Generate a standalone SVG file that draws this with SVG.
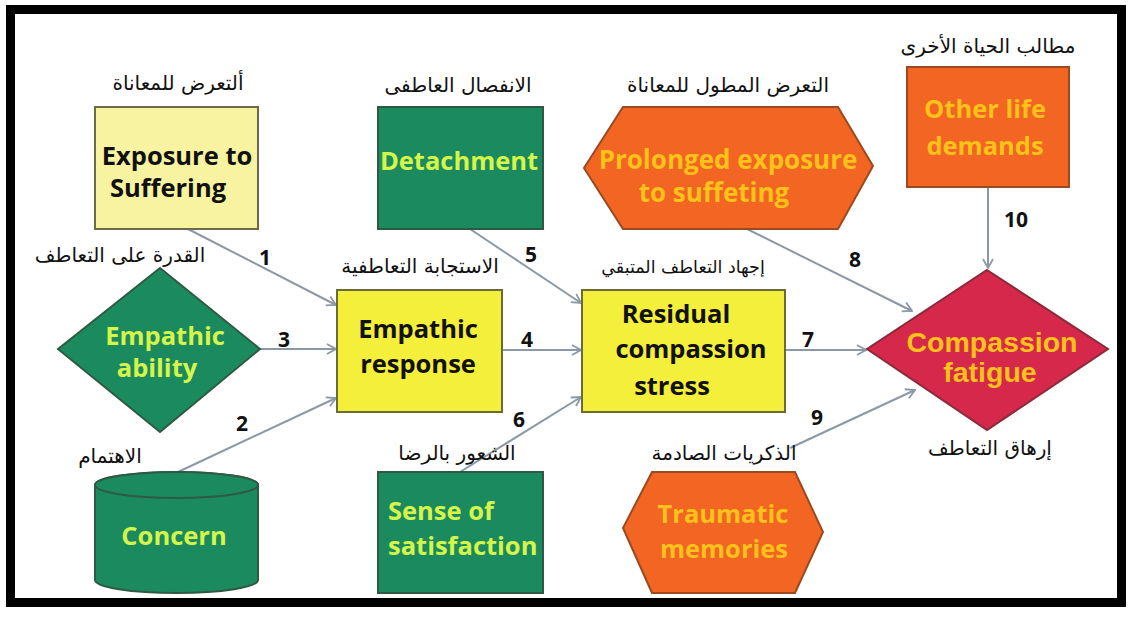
<svg xmlns="http://www.w3.org/2000/svg" width="1132" height="617" viewBox="0 0 1132 617">
  <style>
    .en { font-family: "Open Sans", "Noto Sans", sans-serif; font-weight: bold; font-size: 25.5px; text-anchor: middle; }
    .ar { font-family: "DejaVu Sans", "Noto Sans", sans-serif; font-size: 20px; text-anchor: middle; fill: #111; }
    .num { font-family: "Open Sans", "Noto Sans", sans-serif; font-weight: bold; font-size: 21px; text-anchor: middle; fill: #111; }
    .dark { fill: #111; }
    .lime { fill: #d6f54a; }
    .gold { fill: #ffc21a; }
    .pale { fill: #f8f3a0; stroke: #6b6b4a; stroke-width: 2; }
    .yel { fill: #f3ef3a; stroke: #6b6b3a; stroke-width: 2; }
    .grn { fill: #1b8b5f; stroke: #2e5a45; stroke-width: 2; }
    .org { fill: #f26522; stroke: #9a4a20; stroke-width: 2; }
    .red { fill: #d6284a; stroke: #8a2a3a; stroke-width: 2; }
    .link { stroke: #8b98a6; stroke-width: 2; fill: none; marker-end: url(#arr); }
  </style>
  <defs>
    <marker id="arr" viewBox="0 0 12 12" refX="11" refY="6" markerWidth="12" markerHeight="12" markerUnits="userSpaceOnUse" orient="auto">
      <path d="M2,1 L11,6 L2,11" fill="none" stroke="#8b98a6" stroke-width="1.8"/>
    </marker>
  </defs>

  <rect x="0" y="0" width="1132" height="617" fill="#fff"/>
  <!-- outer frame -->
  <rect x="10.5" y="9.5" width="1111" height="593" fill="none" stroke="#000" stroke-width="9"/>

  <!-- connectors -->
  <g id="connectors">
    <line class="link" x1="188" y1="229" x2="336" y2="305"/>
    <line class="link" x1="178" y1="472" x2="336" y2="398"/>
    <line class="link" x1="260" y1="349" x2="336" y2="349"/>
    <line class="link" x1="502" y1="350" x2="581" y2="350"/>
    <line class="link" x1="470" y1="229" x2="581" y2="303"/>
    <line class="link" x1="460" y1="472" x2="581" y2="397"/>
    <line class="link" x1="785" y1="350" x2="866" y2="350"/>
    <line class="link" x1="747" y1="229" x2="912" y2="311"/>
    <line class="link" x1="790" y1="448" x2="915" y2="390"/>
    <line class="link" x1="988" y1="187" x2="988" y2="268"/>
    <text class="num" x="265" y="265">1</text>
    <text class="num" x="242" y="431">2</text>
    <text class="num" x="284" y="347">3</text>
    <text class="num" x="527" y="347">4</text>
    <text class="num" x="531" y="262">5</text>
    <text class="num" x="519" y="427">6</text>
    <text class="num" x="808" y="347">7</text>
    <text class="num" x="855" y="267">8</text>
    <text class="num" x="817" y="425">9</text>
    <text class="num" x="1016" y="227">10</text>
  </g>

  <g id="exposure">
    <text class="ar" x="178" y="90">ألتعرض للمعاناة</text>
    <rect class="pale" x="95" y="107" width="163" height="122"/>
    <text class="en dark" x="177" y="165">Exposure to</text>
    <text class="en dark" x="168" y="197">Suffering</text>
  </g>

  <g id="detachment">
    <text class="ar" x="458" y="92">الانفصال العاطفى</text>
    <rect class="grn" x="378" y="107" width="165" height="122"/>
    <text class="en lime" x="459" y="170">Detachment</text>
  </g>

  <g id="prolonged">
    <text class="ar" x="728" y="92">التعرض المطول للمعاناة</text>
    <polygon class="org" points="623,107 838,107 873,166 838,229 623,229 584,168"/>
    <text class="en gold" x="728" y="169" style="font-size:26px">Prolonged exposure</text>
    <text class="en gold" x="714" y="202" style="font-size:26px">to suffeting</text>
  </g>

  <g id="other-demands">
    <text class="ar" x="988" y="53">مطالب الحياة الأخرى</text>
    <rect class="org" x="907" y="67" width="162" height="120"/>
    <text class="en gold" x="985" y="118">Other life</text>
    <text class="en gold" x="985" y="155">demands</text>
  </g>

  <g id="empathic-ability">
    <text class="ar" x="120" y="262">القدرة على التعاطف</text>
    <polygon class="grn" points="160,268 260,349 160,432 58,349"/>
    <text class="en lime" x="165" y="345">Empathic</text>
    <text class="en lime" x="157" y="377">ability</text>
  </g>

  <g id="concern">
    <text class="ar" x="110" y="463">الاهتمام</text>
    <path class="grn" d="M95,485 L95,580 A81.5,13 0 0 0 258,580 L258,485 A81.5,13 0 0 0 95,485 Z"/>
    <ellipse class="grn" cx="176.5" cy="485" rx="81.5" ry="13"/>
    <text class="en lime" x="174" y="545">Concern</text>
  </g>

  <g id="empathic-response">
    <text class="ar" x="420" y="273">الاستجابة التعاطفية</text>
    <rect class="yel" x="337" y="290" width="165" height="122"/>
    <text class="en dark" x="418" y="338">Empathic</text>
    <text class="en dark" x="418" y="373">response</text>
  </g>

  <g id="residual-stress">
    <text class="ar" x="683" y="273" style="font-size:17.5px">إجهاد التعاطف المتبقي</text>
    <rect class="yel" x="582" y="290" width="203" height="122"/>
    <text class="en dark" x="676" y="323">Residual</text>
    <text class="en dark" x="691" y="358">compassion</text>
    <text class="en dark" x="672" y="395">stress</text>
  </g>

  <g id="compassion-fatigue">
    <polygon class="red" points="987,270 1108,349 987,430 867,349"/>
    <text class="en gold" x="992" y="352" style="font-family:'Liberation Sans', Arial, sans-serif; font-size:28.5px">Compassion</text>
    <text class="en gold" x="990" y="382" style="font-family:'Liberation Sans', Arial, sans-serif; font-size:28.5px">fatigue</text>
    <text class="ar" x="990" y="455">إرهاق التعاطف</text>
  </g>

  <g id="satisfaction">
    <text class="ar" x="457" y="460">الشعور بالرضا</text>
    <rect class="grn" x="378" y="472" width="165" height="121"/>
    <text class="en lime" x="388" y="520" style="text-anchor:start">Sense of</text>
    <text class="en lime" x="388" y="555" style="text-anchor:start">satisfaction</text>
  </g>

  <g id="traumatic">
    <text class="ar" x="724" y="460">الذكريات الصادمة</text>
    <polygon class="org" points="652,472 795,472 823,532 795,593 652,593 623,528"/>
    <text class="en gold" x="723" y="523">Traumatic</text>
    <text class="en gold" x="724" y="558">memories</text>
  </g>
</svg>
